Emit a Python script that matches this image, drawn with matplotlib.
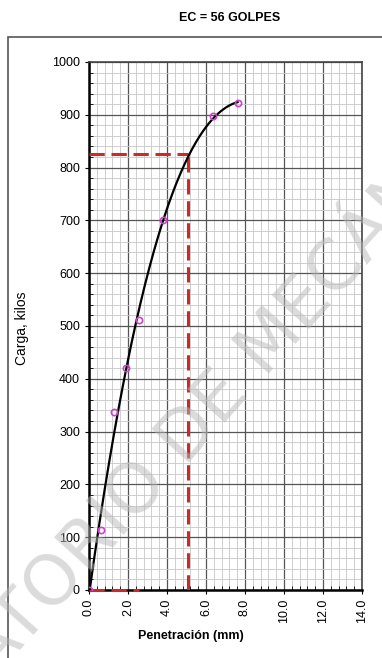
import numpy as np
import matplotlib
matplotlib.use("Agg")
import matplotlib.pyplot as plt
from matplotlib.ticker import MultipleLocator, FormatStrFormatter
from matplotlib.patches import Rectangle

plt.rcParams["font.family"] = ["Liberation Sans", "DejaVu Sans"]

# penetration (mm) and load (kg)
penetracion = [0.0, 0.64, 1.27, 1.91, 2.54, 3.81, 6.35, 7.62]
carga = [0, 113, 337, 420, 511, 700, 897, 922]

# design penetration and load read at 0.2"
pen_diseno = 5.08
carga_diseno = 825
pen_ref = 2.54

titulo = "EC = 56 GOLPES"

fig = plt.figure(figsize=(3.82, 6.58), dpi=100)
ax = fig.add_axes([89 / 382, 1 - 590 / 658, 273 / 382, 528 / 658])

# outer frame
fig.patches.append(Rectangle((8 / 382, -0.1), 1.2, 1 - 37 / 658 + 0.1,
                             transform=fig.transFigure, fill=False,
                             edgecolor="#555555", linewidth=1.2))

# smooth trend (cubic fit through the points)
coef = np.polyfit(penetracion, carga, 3)
xs = np.linspace(0, penetracion[-1], 200)
ax.plot(xs, np.polyval(coef, xs), color="black", linewidth=1.6, zorder=4)

ax.plot(penetracion, carga, linestyle="none", marker="o", markersize=4.5,
        markerfacecolor="none", markeredgecolor="#cc44cc", markeredgewidth=1.2, zorder=5)

red = "#cc2a2a"
ax.plot([0, pen_diseno], [carga_diseno, carga_diseno], color=red, linewidth=2.2,
        dashes=(5, 2.2), zorder=3)
ax.plot([pen_diseno, pen_diseno], [0, carga_diseno], color=red, linewidth=2.2,
        dashes=(5, 2.2), zorder=3)
ax.plot([0, pen_ref], [0, 0], color=red, linewidth=2.2, dashes=(5, 2.2), zorder=3,
        clip_on=False)

ax.set_xlim(0, 14)
ax.set_ylim(0, 1000)
ax.xaxis.set_major_locator(MultipleLocator(2))
ax.xaxis.set_minor_locator(MultipleLocator(0.4))
ax.yaxis.set_major_locator(MultipleLocator(100))
ax.yaxis.set_minor_locator(MultipleLocator(20))
ax.xaxis.set_major_formatter(FormatStrFormatter("%.1f"))
ax.grid(which="major", color="#555555", linewidth=0.9)
ax.grid(which="minor", color="#c8c8c8", linewidth=0.6)
ax.set_axisbelow(True)

ax.tick_params(which="major", length=3, labelsize=9, colors="black")
ax.tick_params(which="minor", direction="in", length=3)
ax.tick_params(axis="x", labelrotation=90)

for s in ["left", "bottom"]:
    ax.spines[s].set_linewidth(1.8)
    ax.spines[s].set_color("black")
for s in ["top", "right"]:
    ax.spines[s].set_linewidth(1.2)
    ax.spines[s].set_color("#444444")

fig.text(230 / 382, 1 - 18 / 658, titulo, ha="center", va="center",
         fontsize=9, fontweight="bold")
fig.text(22 / 382, 1 - 328 / 658, "Carga, kilos", ha="center", va="center",
         rotation=90, fontsize=10)
fig.text(191 / 382, 1 - 636 / 658, "Penetración (mm)", ha="center", va="center",
         fontsize=9, fontweight="bold")

# watermark
fig.text(160 / 382, 1 - 466 / 658, "LABORATORIO DE MECÁNICA", ha="center",
         va="center", rotation=48, fontsize=50, color="#b8b8b8", alpha=0.5,
         family=["DejaVu Sans"], zorder=10)

fig.savefig("out.png", dpi=100)
